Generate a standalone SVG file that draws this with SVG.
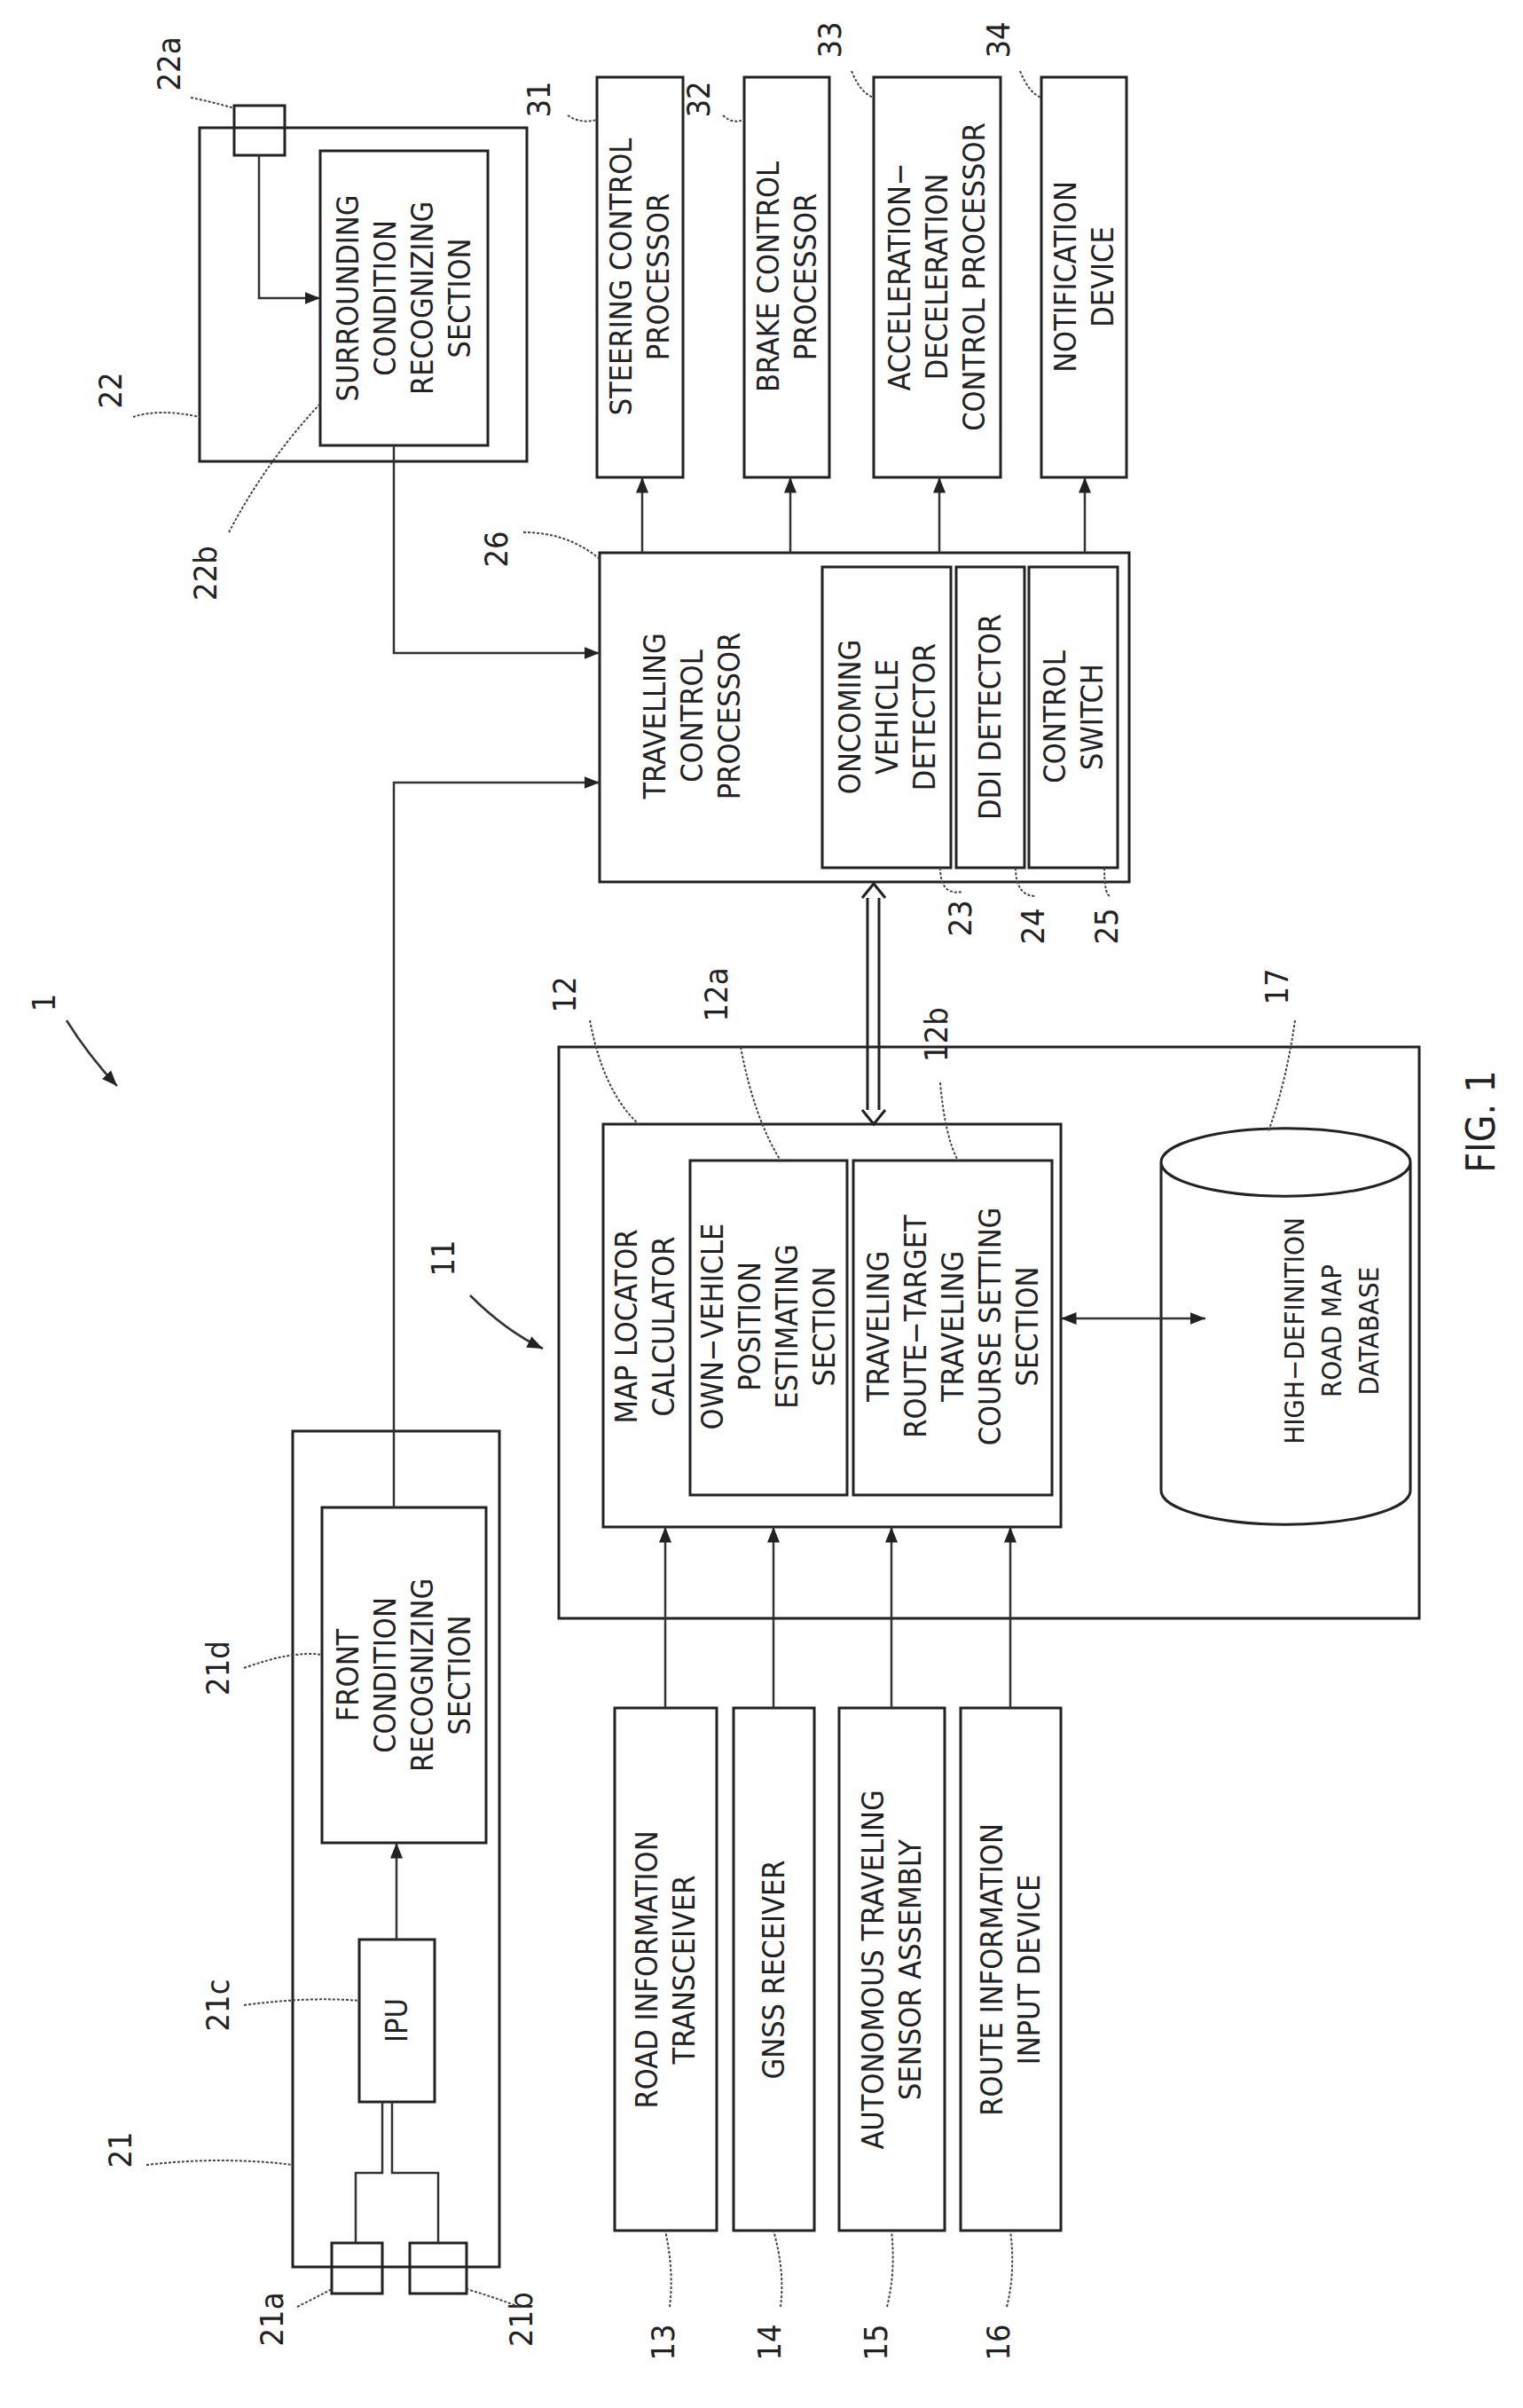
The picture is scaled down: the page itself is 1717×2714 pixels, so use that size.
<svg xmlns="http://www.w3.org/2000/svg" width="1717" height="2714" viewBox="0 0 1717 2714">
<style>
.b{fill:none;stroke:#222;stroke-width:3}
.l{fill:none;stroke:#333;stroke-width:2.5}
.ld{fill:none;stroke:#444;stroke-width:2;stroke-dasharray:3 2}
text{font-family:"DejaVu Sans Condensed","DejaVu Sans",sans-serif;font-size:34px;fill:#222;text-anchor:middle}
.n{font-size:36px}
</style>
<defs>
<marker id="a" viewBox="0 0 10 10" refX="10" refY="5" markerWidth="7" markerHeight="7" orient="auto-start-reverse"><path d="M0,1 L10,5 L0,9 z" fill="#222"/></marker>
</defs>
<rect width="1717" height="2714" fill="#fff"/>

<g id="n22"><rect class="b" x="225" y="144" width="369" height="376"/>
<text class="n" transform="translate(203,72) rotate(-90)">22a</text>
<text class="n" transform="translate(137,440) rotate(-90)">22</text>
<path class="ld" d="M150,470 Q180,460 225,470"/></g>
<g id="n22a"><rect class="b" x="264" y="119" width="57" height="56" fill="#fff"/><path class="ld" d="M215,110 Q240,115 264,122"/></g>
<g id="n22b"><rect class="b" x="361" y="170" width="189" height="332"/>
<text transform="translate(455,336) rotate(-90)"><tspan x="0" dy="-51">SURROUNDING</tspan><tspan x="0" dy="42">CONDITION</tspan><tspan x="0" dy="42">RECOGNIZING</tspan><tspan x="0" dy="42">SECTION</tspan></text>
<text class="n" transform="translate(244,646) rotate(-90)">22b</text>
<path class="ld" d="M258,600 Q300,520 361,455"/></g>

<g id="n26"><rect class="b" x="676" y="623" width="597" height="371"/>
<text transform="translate(780,807) rotate(-90)"><tspan x="0" dy="-30">TRAVELLING</tspan><tspan x="0" dy="42">CONTROL</tspan><tspan x="0" dy="42">PROCESSOR</tspan></text>
<text class="n" transform="translate(572,619) rotate(-90)">26</text>
<path class="ld" d="M590,600 Q640,600 676,630"/></g>
<g id="n23"><rect class="b" x="927" y="639" width="145" height="339"/>
<text transform="translate(1000,808) rotate(-90)"><tspan x="0" dy="-30">ONCOMING</tspan><tspan x="0" dy="42">VEHICLE</tspan><tspan x="0" dy="42">DETECTOR</tspan></text>
<text class="n" transform="translate(1095,1035) rotate(-90)">23</text>
<path class="ld" d="M1060,978 Q1060,1010 1085,1005"/></g>
<g id="n24"><rect class="b" x="1078" y="639" width="77" height="339"/>
<text transform="translate(1116,808) rotate(-90)"><tspan x="0" dy="12">DDI DETECTOR</tspan></text>
<text class="n" transform="translate(1177,1044) rotate(-90)">24</text>
<path class="ld" d="M1145,978 Q1145,1010 1168,1010"/></g>
<g id="n25"><rect class="b" x="1160" y="639" width="100" height="339"/>
<text transform="translate(1210,808) rotate(-90)"><tspan x="0" dy="-9">CONTROL</tspan><tspan x="0" dy="42">SWITCH</tspan></text>
<text class="n" transform="translate(1260,1044) rotate(-90)">25</text>
<path class="ld" d="M1245,978 Q1245,1010 1252,1010"/></g>

<g id="n31"><rect class="b" x="673" y="87" width="97" height="451"/>
<text transform="translate(721,312) rotate(-90)"><tspan x="0" dy="-9">STEERING CONTROL</tspan><tspan x="0" dy="42">PROCESSOR</tspan></text>
<text class="n" transform="translate(620,112) rotate(-90)">31</text><path class="ld" d="M640,130 Q655,140 673,135"/></g>
<g id="n32"><rect class="b" x="839" y="87" width="96" height="451"/>
<text transform="translate(887,312) rotate(-90)"><tspan x="0" dy="-9">BRAKE CONTROL</tspan><tspan x="0" dy="42">PROCESSOR</tspan></text>
<text class="n" transform="translate(800,112) rotate(-90)">32</text><path class="ld" d="M815,130 Q825,140 839,135"/></g>
<g id="n33"><rect class="b" x="985" y="87" width="143" height="451"/>
<text transform="translate(1056,312) rotate(-90)"><tspan x="0" dy="-30">ACCELERATION−</tspan><tspan x="0" dy="42">DECELERATION</tspan><tspan x="0" dy="42">CONTROL PROCESSOR</tspan></text>
<text class="n" transform="translate(948,45) rotate(-90)">33</text><path class="ld" d="M960,80 Q970,105 985,110"/></g>
<g id="n34"><rect class="b" x="1174" y="87" width="96" height="451"/>
<text transform="translate(1222,312) rotate(-90)"><tspan x="0" dy="-9">NOTIFICATION</tspan><tspan x="0" dy="42">DEVICE</tspan></text>
<text class="n" transform="translate(1138,45) rotate(-90)">34</text><path class="ld" d="M1150,80 Q1160,105 1174,110"/></g>

<g id="n11"><rect class="b" x="630" y="1180" width="970" height="644"/>
<text class="n" transform="translate(512,1418) rotate(-90)">11</text>
<path class="l" d="M530,1460 Q570,1500 612,1520" marker-end="url(#a)"/></g>
<g id="n12"><rect class="b" x="680" y="1267" width="516" height="454"/>
<text transform="translate(727,1495) rotate(-90)"><tspan x="0" dy="-9">MAP LOCATOR</tspan><tspan x="0" dy="42">CALCULATOR</tspan></text>
<text class="n" transform="translate(649,1121) rotate(-90)">12</text><path class="ld" d="M665,1150 Q680,1230 720,1267"/></g>
<g id="n12a"><rect class="b" x="778" y="1308" width="177" height="377"/>
<text transform="translate(866,1495) rotate(-90)"><tspan x="0" dy="-51">OWN−VEHICLE</tspan><tspan x="0" dy="42">POSITION</tspan><tspan x="0" dy="42">ESTIMATING</tspan><tspan x="0" dy="42">SECTION</tspan></text>
<text class="n" transform="translate(820,1121) rotate(-90)">12a</text><path class="ld" d="M835,1180 Q850,1260 880,1308"/></g>
<g id="n12b"><rect class="b" x="962" y="1308" width="224" height="377"/>
<text transform="translate(1074,1495) rotate(-90)"><tspan x="0" dy="-72">TRAVELING</tspan><tspan x="0" dy="42">ROUTE−TARGET</tspan><tspan x="0" dy="42">TRAVELING</tspan><tspan x="0" dy="42">COURSE SETTING</tspan><tspan x="0" dy="42">SECTION</tspan></text>
<text class="n" transform="translate(1068,1166) rotate(-90)">12b</text><path class="ld" d="M1060,1220 Q1065,1280 1080,1308"/></g>
<g id="n17"><path class="b" d="M1309,1310 A140,38 0 0 1 1590,1310 V1680 A140,38 0 0 1 1309,1680 Z M1309,1310 A140,38 0 0 0 1590,1310"/>
<text style="font-size:31px" transform="translate(1500,1500) rotate(-90)"><tspan x="0" dy="-30">HIGH−DEFINITION</tspan><tspan x="0" dy="42">ROAD MAP</tspan><tspan x="0" dy="42">DATABASE</tspan></text>
<text class="n" transform="translate(1452,1112) rotate(-90)">17</text><path class="ld" d="M1460,1150 Q1450,1220 1430,1275"/></g>

<g id="n21"><rect class="b" x="330" y="1613" width="233" height="942"/>
<text class="n" transform="translate(148,2423) rotate(-90)">21</text><path class="ld" d="M165,2440 Q250,2430 330,2440"/></g>
<g id="n21d"><rect class="b" x="363" y="1699" width="185" height="378"/>
<text transform="translate(455,1888) rotate(-90)"><tspan x="0" dy="-51">FRONT</tspan><tspan x="0" dy="42">CONDITION</tspan><tspan x="0" dy="42">RECOGNIZING</tspan><tspan x="0" dy="42">SECTION</tspan></text>
<text class="n" transform="translate(258,1880) rotate(-90)">21d</text><path class="ld" d="M275,1880 Q330,1860 363,1865"/></g>
<g id="n21c"><rect class="b" x="405" y="2186" width="85" height="183"/>
<text transform="translate(447,2277) rotate(-90)"><tspan x="0" dy="12">IPU</tspan></text>
<text class="n" transform="translate(258,2260) rotate(-90)">21c</text><path class="ld" d="M275,2260 Q350,2250 405,2255"/></g>
<g id="n21a"><rect class="b" x="374" y="2528" width="57" height="57" fill="#fff"/>
<text class="n" transform="translate(319,2614) rotate(-90)">21a</text><path class="ld" d="M335,2600 Q355,2590 374,2580"/></g>
<g id="n21b"><rect class="b" x="462" y="2528" width="64" height="57" fill="#fff"/>
<text class="n" transform="translate(600,2614) rotate(-90)">21b</text><path class="ld" d="M585,2600 Q560,2590 526,2580"/></g>

<g id="n13"><rect class="b" x="693" y="1925" width="115" height="589"/>
<text transform="translate(750,2220) rotate(-90)"><tspan x="0" dy="-9">ROAD INFORMATION</tspan><tspan x="0" dy="42">TRANSCEIVER</tspan></text>
<text class="n" transform="translate(760,2640) rotate(-90)">13</text><path class="ld" d="M755,2600 Q760,2560 750,2514"/></g>
<g id="n14"><rect class="b" x="827" y="1925" width="91" height="589"/>
<text transform="translate(872,2220) rotate(-90)"><tspan x="0" dy="12">GNSS RECEIVER</tspan></text>
<text class="n" transform="translate(880,2640) rotate(-90)">14</text><path class="ld" d="M880,2600 Q885,2560 872,2514"/></g>
<g id="n15"><rect class="b" x="946" y="1925" width="119" height="589"/>
<text transform="translate(1005,2220) rotate(-90)"><tspan x="0" dy="-9">AUTONOMOUS TRAVELING</tspan><tspan x="0" dy="42">SENSOR ASSEMBLY</tspan></text>
<text class="n" transform="translate(1000,2640) rotate(-90)">15</text><path class="ld" d="M1000,2600 Q1010,2560 1005,2514"/></g>
<g id="n16"><rect class="b" x="1083" y="1925" width="113" height="589"/>
<text transform="translate(1139,2220) rotate(-90)"><tspan x="0" dy="-9">ROUTE INFORMATION</tspan><tspan x="0" dy="42">INPUT DEVICE</tspan></text>
<text class="n" transform="translate(1138,2640) rotate(-90)">16</text><path class="ld" d="M1135,2600 Q1145,2560 1139,2514"/></g>

<g id="lbl"><text class="n" transform="translate(62,1130) rotate(-90)">1</text>
<path class="l" d="M75,1150 Q100,1190 132,1224" marker-end="url(#a)"/>
<text style="font-size:44px" transform="translate(1685,1264) rotate(-90)">FIG. 1</text></g>

<g id="connectors">
<path class="l" d="M292,175 V336 H361" marker-end="url(#a)"/>
<path class="l" d="M444,502 V736 H676" marker-end="url(#a)"/>
<path class="l" d="M444,1699 V882 H676" marker-end="url(#a)"/>
<path class="l" d="M724,623 V538" marker-end="url(#a)"/>
<path class="l" d="M891,623 V538" marker-end="url(#a)"/>
<path class="l" d="M1059,623 V538" marker-end="url(#a)"/>
<path class="l" d="M1223,623 V538" marker-end="url(#a)"/>
<path class="b" d="M978,1012 V1251 M991,1012 V1251"/>
<path class="b" d="M972,1012 L985,996 L998,1012 M972,1251 L985,1267 L998,1251" stroke-linejoin="miter"/>
<path class="l" d="M1196,1486 H1359" marker-start="url(#a)" marker-end="url(#a)"/>
<path class="l" d="M750,1925 V1721" marker-end="url(#a)"/>
<path class="l" d="M872,1925 V1721" marker-end="url(#a)"/>
<path class="l" d="M1005,1925 V1721" marker-end="url(#a)"/>
<path class="l" d="M1139,1925 V1721" marker-end="url(#a)"/>
<path class="l" d="M447,2186 V2077" marker-end="url(#a)"/>
<path class="l" d="M431,2369 V2449 H401 V2528"/>
<path class="l" d="M442,2369 V2449 H494 V2528"/>
</g>
</svg>
